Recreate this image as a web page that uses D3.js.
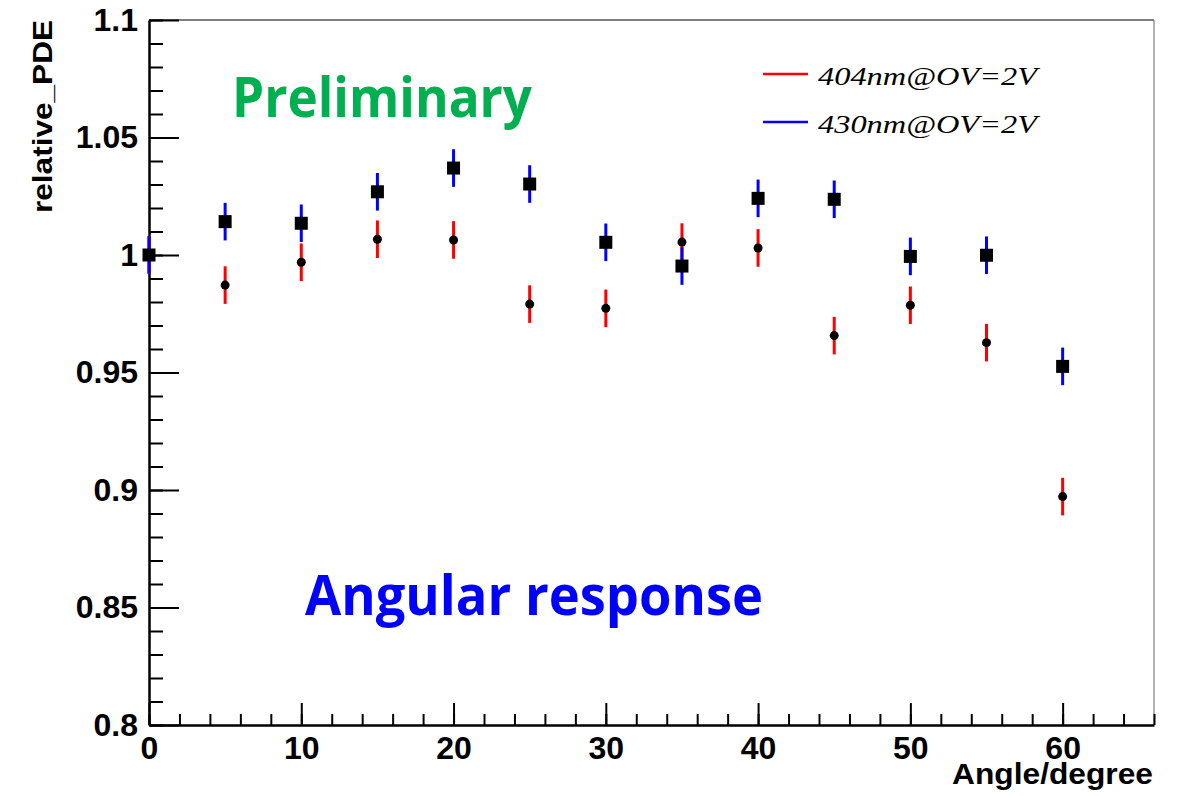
<!DOCTYPE html>
<html>
<head>
<meta charset="utf-8">
<script src="https://cdn.jsdelivr.net/npm/d3@7"></script>
<style>
  body { margin: 0; background: #fff; }
  svg { display: block; }
</style>
</head>
<body>
<script>
// angle in degrees, relative PDE for two wavelengths
var angles = [0, 5, 10, 15, 20, 25, 30, 35, 40, 45, 50, 55, 60];
var pde404 = [1.000, 0.9872, 0.9969, 1.0067, 1.0064, 0.9791, 0.9773, 1.0055, 1.0030, 0.9657, 0.9786, 0.9627, 0.8972];
var err404 = [0.008, 0.008, 0.008, 0.008, 0.008, 0.008, 0.008, 0.008, 0.008, 0.008, 0.008, 0.008, 0.008];
var pde430 = [1.000, 1.0142, 1.0135, 1.0269, 1.0370, 1.0302, 1.0054, 0.9953, 1.0241, 1.0237, 0.9994, 0.9999, 0.9526];
var err430 = [0.008, 0.008, 0.008, 0.008, 0.008, 0.008, 0.008, 0.008, 0.008, 0.008, 0.008, 0.008, 0.008];
var yMajor = [0.8, 0.85, 0.9, 0.95, 1, 1.05, 1.1];
var yLabels = ["0.8", "0.85", "0.9", "0.95", "1", "1.05", "1.1"];
var xMajor = [0, 10, 20, 30, 40, 50, 60];
var legendNames = ["404nm@OV=2V", "430nm@OV=2V"];

var w = 1181, h = 796;
var padL = 149, padR = 1154, padT = 20, padB = 725;

var svg = d3.select("body").append("svg")
  .attr("width", w)
  .attr("height", h);

var x = d3.scaleLinear().domain([0, 66]).range([padL, padR]);
var y = d3.scaleLinear().domain([0.8, 1.1]).range([padB, padT]);

/* ===== FRAME ===== */
svg.append("line")
  .attr("x1", padL).attr("x2", padR).attr("y1", padT).attr("y2", padT)
  .attr("stroke", "#000").attr("stroke-width", 1.2);
svg.append("line")
  .attr("x1", padR).attr("x2", padR).attr("y1", padT).attr("y2", padB)
  .attr("stroke", "#808080").attr("stroke-width", 1.2);

/* ===== AXES ===== */
var font = "'Liberation Sans', Arial, Helvetica, sans-serif";

var yMinor = d3.range(80, 111).map(function (d) { return d / 100; });
svg.append("g")
  .attr("transform", "translate(" + padL + ",0)")
  .call(d3.axisLeft(y).tickValues(yMinor).tickSize(-14).tickSizeOuter(0).tickFormat(""))
  .call(function (g) { g.select(".domain").remove(); g.selectAll("line").attr("stroke-width", 2); });

var yAx = svg.append("g")
  .attr("transform", "translate(" + padL + ",0)")
  .call(d3.axisLeft(y).tickValues(yMajor).tickSize(-30).tickSizeOuter(0).tickPadding(11)
    .tickFormat(function (d, i) { return yLabels[i]; }));
yAx.select(".domain").attr("stroke-width", 2.5);
yAx.selectAll("line").attr("stroke-width", 2);
yAx.selectAll("text")
  .attr("font-family", font).attr("font-weight", "bold").attr("font-size", "32px").attr("fill", "#000");

var xMinor = d3.range(0, 67, 2);
svg.append("g")
  .attr("transform", "translate(0," + padB + ")")
  .call(d3.axisBottom(x).tickValues(xMinor).tickSize(-11).tickSizeOuter(0).tickFormat(""))
  .call(function (g) { g.select(".domain").remove(); g.selectAll("line").attr("stroke-width", 2); });

var xAx = svg.append("g")
  .attr("transform", "translate(0," + padB + ")")
  .call(d3.axisBottom(x).tickValues(xMajor).tickSize(-22).tickSizeOuter(0).tickPadding(11));
xAx.select(".domain").attr("stroke-width", 2.5);
xAx.selectAll("line").attr("stroke-width", 2);
xAx.selectAll("text")
  .attr("font-family", font).attr("font-weight", "bold").attr("font-size", "32px").attr("fill", "#000");

/* ===== AXIS TITLES ===== */
svg.append("text")
  .text("Angle/degree")
  .attr("x", 1153).attr("y", 784)
  .attr("text-anchor", "end")
  .attr("font-family", font).attr("font-weight", "bold").attr("font-size", "29px")
  .attr("textLength", 201).attr("lengthAdjust", "spacingAndGlyphs");

svg.append("text")
  .text("relative_PDE")
  .attr("transform", "translate(52,20) rotate(-90)")
  .attr("text-anchor", "end")
  .attr("font-family", font).attr("font-weight", "bold").attr("font-size", "27px")
  .attr("textLength", 193).attr("lengthAdjust", "spacingAndGlyphs");

/* ===== ERROR BARS ===== */
function errBars(vals, errs, color) {
  svg.append("g").selectAll("line")
    .data(angles)
    .enter().append("line")
    .attr("x1", function (d) { return x(d); })
    .attr("x2", function (d) { return x(d); })
    .attr("y1", function (d, i) { return y(vals[i] - errs[i]); })
    .attr("y2", function (d, i) { return y(vals[i] + errs[i]); })
    .attr("stroke", color)
    .attr("stroke-width", 3);
}
errBars(pde404, err404, "#ff0000");
errBars(pde430, err430, "#0000ff");

/* ===== MARKERS ===== */
svg.append("g").selectAll("circle")
  .data(angles)
  .enter().append("circle")
  .attr("cx", function (d) { return x(d); })
  .attr("cy", function (d, i) { return y(pde404[i]); })
  .attr("r", 4.5)
  .attr("fill", "#000");

var sq = 13;
svg.append("g").selectAll("rect")
  .data(angles)
  .enter().append("rect")
  .attr("x", function (d) { return x(d) - sq / 2; })
  .attr("y", function (d, i) { return y(pde430[i]) - sq / 2; })
  .attr("width", sq)
  .attr("height", sq)
  .attr("fill", "#000");

/* ===== LEGEND ===== */
var legendColors = ["#ff0000", "#0000ff"];
var leg = svg.append("g").selectAll("g")
  .data(legendNames)
  .enter().append("g")
  .attr("transform", function (d, i) { return "translate(0," + (74 + i * 48) + ")"; });
leg.append("line")
  .attr("x1", 763).attr("x2", 808).attr("y1", 0).attr("y2", 0)
  .attr("stroke", function (d, i) { return legendColors[i]; })
  .attr("stroke-width", 2.5);
leg.append("text")
  .text(function (d) { return d; })
  .attr("x", 818).attr("y", 11)
  .attr("font-family", "'Liberation Serif', 'Times New Roman', serif")
  .attr("font-style", "italic")
  .attr("font-size", "26px")
  .attr("textLength", 219).attr("lengthAdjust", "spacingAndGlyphs")
  .attr("fill", "#000");

/* ===== ANNOTATIONS ===== */
svg.append("text")
  .text("Preliminary")
  .attr("x", 232).attr("y", 117)
  .attr("font-family", "'Open Sans', 'Noto Sans', sans-serif")
  .attr("font-weight", "bold").attr("font-size", "55px")
  .attr("textLength", 300).attr("lengthAdjust", "spacingAndGlyphs")
  .attr("fill", "#00b050");

svg.append("text")
  .text("Angular response")
  .attr("x", 305).attr("y", 615)
  .attr("font-family", "'Open Sans', 'Noto Sans', sans-serif")
  .attr("font-weight", "bold").attr("font-size", "56px")
  .attr("textLength", 458).attr("lengthAdjust", "spacingAndGlyphs")
  .attr("fill", "#0000ff");
</script>
</body>
</html>
